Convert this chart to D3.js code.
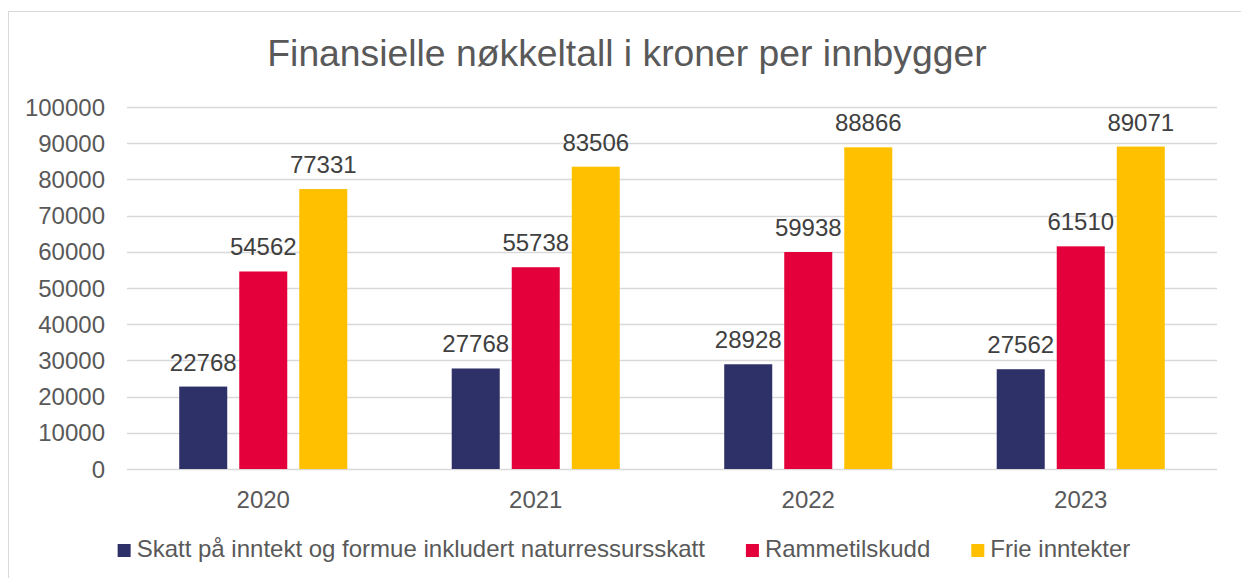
<!DOCTYPE html>
<html>
<head>
<meta charset="utf-8">
<script src="https://cdn.jsdelivr.net/npm/d3@7"></script>
<style>
  body { margin: 0; background: #fff; }
  svg { display: block; font-family: "Liberation Sans", Arial, sans-serif; }
  .grid line { stroke: #d9d9d9; stroke-width: 1.5; }
  .lbl { fill: #404040; }
  text { fill: #595959; }
</style>
</head>
<body>
<svg id="chart" width="1241" height="578"></svg>
<script>
// data
const years = ['2020', '2021', '2022', '2023'];
const seriesNames = ['Skatt på inntekt og formue inkludert naturressursskatt', 'Rammetilskudd', 'Frie inntekter'];
const skatt = [22768, 27768, 28928, 27562];
const rammetilskudd = [54562, 55738, 59938, 61510];
const frieInntekter = [77331, 83506, 88866, 89071];
const yTicks = [0, 10000, 20000, 30000, 40000, 50000, 60000, 70000, 80000, 90000, 100000];
const colors = ['#2e3068', '#e4003a', '#ffc000'];
const title = 'Finansielle nøkkeltall i kroner per innbygger';

const seriesValues = [skatt, rammetilskudd, frieInntekter];

const svg = d3.select('#chart');
const plot = {left: 127, right: 1217, top: 107, bottom: 469};

// chart frame
svg.append('rect')
  .attr('x', 8.5).attr('y', 11.5)
  .attr('width', 1260).attr('height', 620)
  .attr('fill', '#fff')
  .attr('stroke', '#d9d9d9');

svg.append('text')
  .attr('x', 627).attr('y', 66)
  .attr('text-anchor', 'middle')
  .style('font-size', '37.3px')
  .text(title);

let x0 = d3.scaleBand().domain(years).range([plot.left, plot.right]);
let x1 = d3.scaleBand().domain(d3.range(3))
  .range([0, x0.bandwidth()])
  .paddingInner(0.2)
  .paddingOuter(0.87);
let y = d3.scaleLinear().domain([0, 100000]).range([plot.bottom, plot.top]);

// grid
svg.append('g').attr('class', 'grid')
  .selectAll('line')
  .data(yTicks)
  .join('line')
  .attr('x1', plot.left).attr('x2', plot.right)
  .attr('y1', d => Math.round(y(d)) + 0.5)
  .attr('y2', d => Math.round(y(d)) + 0.5);

// y axis labels
svg.append('g')
  .selectAll('text')
  .data(yTicks)
  .join('text')
  .attr('x', 105)
  .attr('y', d => y(d) + 8.5)
  .attr('text-anchor', 'end')
  .style('font-size', '24px')
  .text(d => d);

// x axis labels
svg.append('g')
  .selectAll('text')
  .data(years)
  .join('text')
  .attr('x', d => x0(d) + x0.bandwidth() / 2)
  .attr('y', 508)
  .attr('text-anchor', 'middle')
  .style('font-size', '24px')
  .text(d => d);

// bars
let barData = [];
years.forEach((yr, i) => {
  seriesValues.forEach((vals, s) => {
    barData.push({year: yr, s, value: vals[i]});
  });
});

svg.append('g')
  .selectAll('rect')
  .data(barData)
  .join('rect')
  .attr('x', d => x0(d.year) + x1(d.s))
  .attr('y', d => y(d.value))
  .attr('width', x1.bandwidth())
  .attr('height', d => y(0) - y(d.value))
  .attr('fill', d => colors[d.s]);

svg.append('g')
  .selectAll('text')
  .data(barData)
  .join('text')
  .attr('class', 'lbl')
  .attr('x', d => x0(d.year) + x1(d.s) + x1.bandwidth() / 2)
  .attr('y', d => y(d.value) - 16)
  .attr('text-anchor', 'middle')
  .style('font-size', '24px')
  .text(d => d.value);

// legend
const gap = 41;
let legend = svg.append('g');
let items = legend.selectAll('g')
  .data(seriesNames)
  .join('g');
items.append('rect')
  .attr('width', 13).attr('height', 13)
  .attr('y', -13)
  .attr('fill', (d, i) => colors[i]);
items.append('text')
  .attr('x', 19)
  .attr('y', 0)
  .style('font-size', '24px')
  .text(d => d);
let offset = 0;
items.each(function () {
  let w = d3.select(this).select('text').node().getComputedTextLength();
  d3.select(this).attr('data-x', offset);
  offset += 19 + w + gap;
});
let total = offset - gap;
let startX = 624 - total / 2;
items.attr('transform', function () {
  return `translate(${startX + +this.getAttribute('data-x')},557)`;
});
</script>
</body>
</html>
